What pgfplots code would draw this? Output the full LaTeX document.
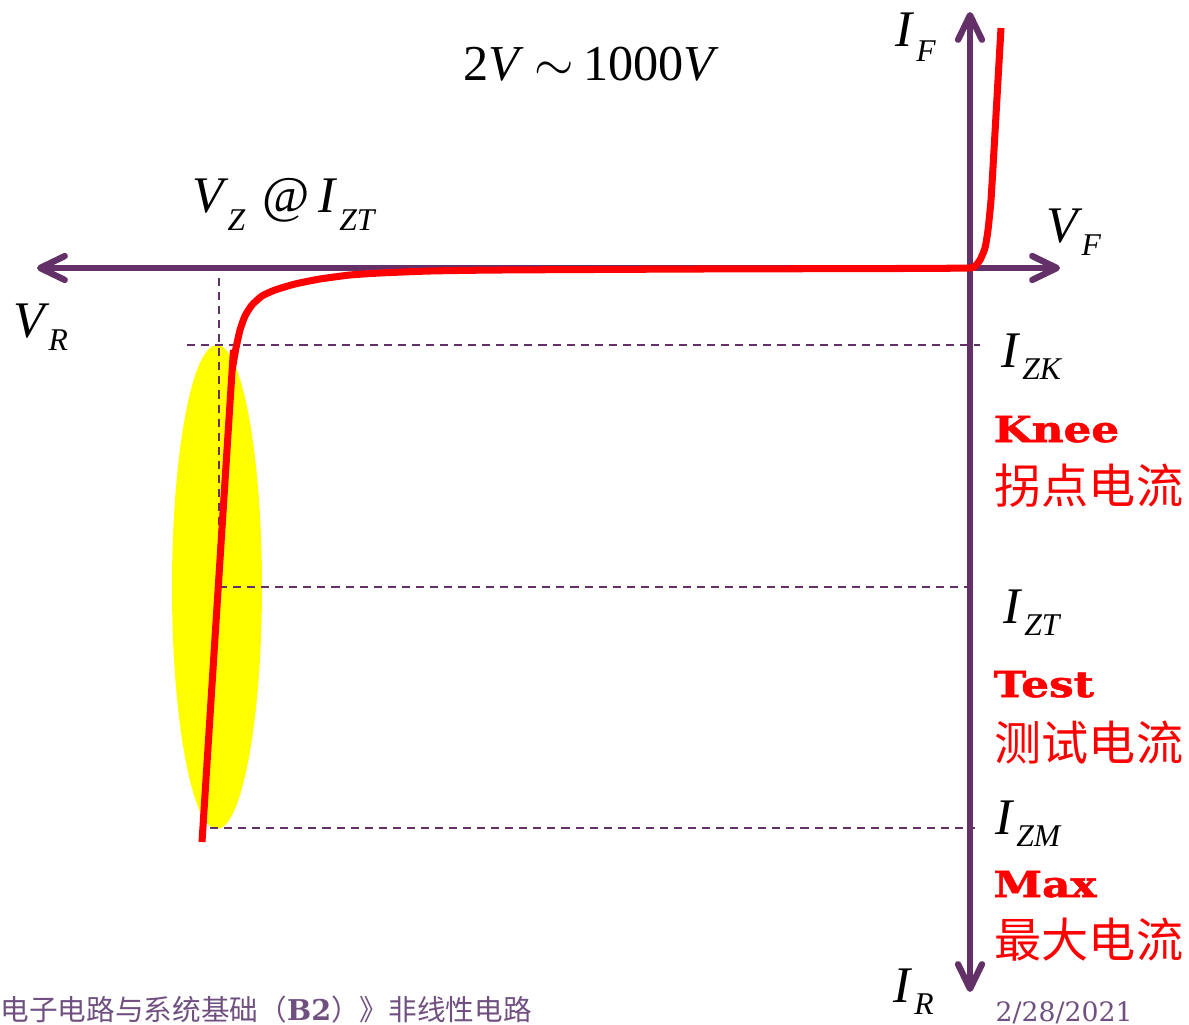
\documentclass[border=0pt]{standalone}
\usepackage{pgfplots}
\pgfplotsset{compat=1.18}
\usepackage{fontspec}
\setmainfont{Liberation Serif}
\newfontfamily\cjk{Noto Sans CJK SC}
\newfontfamily\slab{DejaVu Serif}
\newfontfamily\heavy[FakeBold=1.4]{DejaVu Serif Bold}
\usetikzlibrary{arrows.meta}
\definecolor{ax}{RGB}{99,49,104}
\definecolor{foot}{RGB}{112,80,128}
\definecolor{hl}{RGB}{255,255,0}
% main letter, subscript, drop
\newcommand{\lbl}[3][3.6pt]{{\fontsize{14.6}{15}\selectfont\itshape #2}\kern1pt\raisebox{-#1}{\fontsize{9}{9}\selectfont\itshape #3}}
\newcommand{\tag}[1]{\scalebox{1.22}[1]{\fontsize{10.2}{10}\selectfont\heavy #1}}
\newcommand{\zh}[1]{{\fontsize{13.4}{14}\selectfont\cjk #1}}
\begin{document}
\begin{tikzpicture}
\begin{axis}[
  scale only axis, width=11.89cm, height=10.25cm,
  xmin=0, xmax=1189, ymin=0, ymax=1025, y dir=reverse,
  hide axis, clip=false]
% highlight
\fill[hl] (axis cs:217,587) ellipse [x radius=0.45cm, y radius=2.42cm];
% dashed guides
\addplot[ax, line width=0.75pt, dash pattern=on 2.3pt off 1.7pt] coordinates {(219,278) (219,587)};
\addplot[ax, line width=0.75pt, dash pattern=on 2.3pt off 1.7pt] coordinates {(187,345) (980,345)};
\addplot[ax, line width=0.75pt, dash pattern=on 2.3pt off 1.7pt] coordinates {(219,587) (970,587)};
\addplot[ax, line width=0.75pt, dash pattern=on 2.3pt off 1.7pt] coordinates {(210,828) (975,828)};
% axes
\draw[ax, line width=1.8pt, line cap=round,
  {Straight Barb[length=7pt, width=6.8pt, line cap=round, line join=round]}-{Straight Barb[length=7pt, width=6.8pt, line cap=round, line join=round]}]
  (axis cs:37,268) -- (axis cs:1060,268);
\draw[ax, line width=1.8pt, line cap=round,
  {Straight Barb[length=7pt, width=6.8pt, line cap=round, line join=round]}-{Straight Barb[length=7pt, width=6.8pt, line cap=round, line join=round]}]
  (axis cs:970,992) -- (axis cs:970,12);
% characteristic curve
\addplot[red, line width=2pt, smooth, tension=0.35] coordinates {
 (1001,28) (998,80) (994,150) (991,200) (988,230) (985,248) (980,260) (975,266) (968,268)
 (900,268.5) (700,269) (500,270) (430,271) (380,273) (350,275) (320,279) (295,284) (275,290)
 (262,296) (252,305) (245,316) (240,330) (236,348) (233,365) (232,372) (202,842)};
% labels
\node[anchor=base west, inner sep=0] at (axis cs:463,81) {\fontsize{14.3}{15}\selectfont 2\textit{V}\hspace{3pt}$\sim$\hspace{2.5pt}1000\textit{V}};
\node[anchor=base west, inner sep=0] at (axis cs:192,213) {\lbl[5pt]{V}{Z}\ \ {\fontsize{14.6}{15}\selectfont @}\ \lbl[5pt]{I}{ZT}};
\node[anchor=base west, inner sep=0] at (axis cs:13,338) {\lbl{V}{R}};
\node[anchor=base west, inner sep=0] at (axis cs:895,47) {\lbl[4pt]{I}{F}};
\node[anchor=base west, inner sep=0] at (axis cs:1046,243) {\lbl{V}{F}};
\node[anchor=base west, inner sep=0] at (axis cs:1001,367) {\lbl{I}{ZK}};
\node[anchor=base west, inner sep=0] at (axis cs:1003,623) {\lbl{I}{ZT}};
\node[anchor=base west, inner sep=0] at (axis cs:995,834) {\lbl{I}{ZM}};
\node[anchor=base west, inner sep=0] at (axis cs:893,1002) {\lbl{I}{R}};
\node[anchor=base west, inner sep=0, red] at (axis cs:993,442) {\tag{Knee}};
\node[anchor=base west, inner sep=0, red] at (axis cs:993,697) {\tag{Test}};
\node[anchor=base west, inner sep=0, red] at (axis cs:993,897) {\tag{Max}};
\node[anchor=base west, inner sep=0, red] at (axis cs:994,503) {\zh{拐点电流}};
\node[anchor=base west, inner sep=0, red] at (axis cs:994,760) {\zh{测试电流}};
\node[anchor=base west, inner sep=0, red] at (axis cs:994,957) {\zh{最大电流}};
\node[anchor=base west, inner sep=0, foot] at (axis cs:0,1020) {\fontsize{8.15}{9}\selectfont\cjk 电子电路与系统基础（{\slab\bfseries B2}）》非线性电路};
\node[anchor=base west, inner sep=0, foot] at (axis cs:995,1021) {\fontsize{7.6}{8}\selectfont\slab 2/28/2021};
\end{axis}
\pgfresetboundingbox
\path (current axis.south west) rectangle (current axis.north east);
\end{tikzpicture}
\end{document}
